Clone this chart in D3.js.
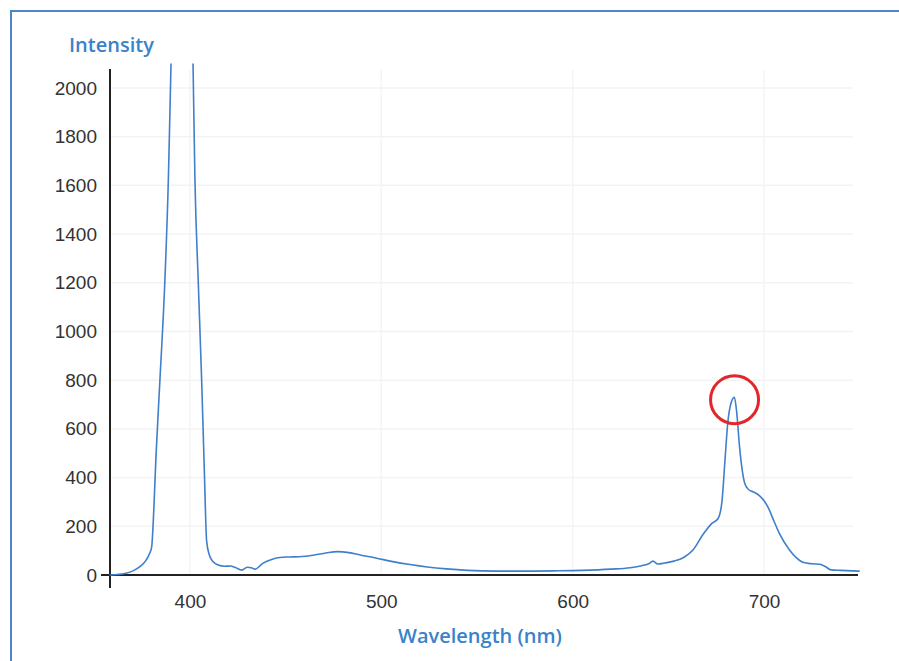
<!DOCTYPE html>
<html>
<head>
<meta charset="utf-8">
<script src="https://cdn.jsdelivr.net/npm/d3@7"></script>
<style>
  body { margin: 0; background: #fff; }
  svg { display: block; }
</style>
</head>
<body>
<svg id="chart" width="899" height="661"></svg>
<script>
// wavelength (nm) and intensity
const wavelengths = [358, 362, 366, 370, 374, 377, 379, 380, 381, 382.2, 384.3, 386.9, 388.7, 390.1, 392, 395, 398, 400, 401.6, 402.6, 404.3, 406.1, 407.5, 408.7, 410, 412, 414.5, 418, 421, 424, 427, 430, 432, 434, 438, 443, 447, 452, 457, 465, 471, 477, 483, 489, 497, 506, 515, 524, 534, 545, 560, 575, 590, 605, 620, 630, 636, 640, 642, 644.5, 648, 653, 658, 663, 668, 672.5, 676, 678, 679.5, 681, 683, 684.5, 685.7, 687.2, 689.9, 692, 694.2, 697.7, 700, 702, 705, 708, 713.3, 717, 720.3, 725, 729, 732, 735, 740, 746.4, 750];
const intensity = [0, 2, 6, 16, 35, 60, 90, 116, 250, 480, 801, 1211, 1622, 2100, 2700, 3200, 3200, 2800, 2100, 1622, 1211, 801, 430, 140, 85, 55, 42, 36, 37, 30, 20, 32, 30, 24, 48, 65, 72, 74, 75, 82, 90, 96, 92, 82, 70, 55, 43, 33, 25, 19, 16, 16, 17, 19, 24, 30, 38, 47, 57, 45, 49, 57, 72, 104, 165, 210, 232, 300, 460, 620, 712, 730, 670, 527, 377, 350, 342, 325, 305, 280, 225, 171, 103, 70, 52, 46, 44, 35, 21, 19, 17, 16];
const xTicks = [400, 500, 600, 700];
const yTicks = [0, 200, 400, 600, 800, 1000, 1200, 1400, 1600, 1800, 2000];
const highlight = { wavelength: 684.6, intensity: 720 };

const svg = d3.select('#chart');
const blue = '#3a82cb';
const tickFont = '19px "Liberation Sans", Arial, sans-serif';

// frame round the figure
svg.append('rect')
  .attr('x', 11).attr('y', 11)
  .attr('width', 1000).attr('height', 1000)
  .attr('fill', 'none')
  .attr('stroke', '#4a86c9')
  .attr('stroke-width', 2);

const x = d3.scaleLinear().domain([358, 750]).range([109.6, 859.7]);
const y = d3.scaleLinear().domain([0, 2100]).range([575, 63.6]);

// faint grid
svg.append('g').selectAll('line')
  .data(yTicks.slice(1))
  .join('line')
  .attr('x1', 111).attr('x2', 853)
  .attr('y1', d => y(d)).attr('y2', d => y(d))
  .attr('stroke', '#f3f3f3').attr('stroke-width', 1.5);
svg.append('g').selectAll('line')
  .data(xTicks)
  .join('line')
  .attr('x1', d => x(d)).attr('x2', d => x(d))
  .attr('y1', 70).attr('y2', 574)
  .attr('stroke', '#f4f4f4').attr('stroke-width', 1.5);

// axes
svg.append('line')
  .attr('x1', 110).attr('x2', 110)
  .attr('y1', 69).attr('y2', 588)
  .attr('stroke', '#222').attr('stroke-width', 2);
svg.append('line')
  .attr('x1', 101).attr('x2', 858)
  .attr('y1', y(0)).attr('y2', y(0))
  .attr('stroke', '#222').attr('stroke-width', 2);

const yAxis = d3.axisLeft(y).tickValues(yTicks).tickFormat(d3.format('d')).tickSize(0).tickPadding(13);
svg.append('g')
  .attr('transform', 'translate(110,0)')
  .call(yAxis)
  .call(g => g.select('.domain').remove())
  .call(g => g.selectAll('text')
    .attr('fill', '#333')
    .style('font', tickFont));

const xAxis = d3.axisBottom(x).tickValues(xTicks).tickFormat(d3.format('d')).tickSize(0).tickPadding(20);
svg.append('g')
  .attr('transform', `translate(0,${y(0)})`)
  .call(xAxis)
  .call(g => g.select('.domain').remove())
  .call(g => g.selectAll('text')
    .attr('fill', '#333')
    .style('font', tickFont));

// titles
svg.append('text')
  .attr('x', 69).attr('y', 52)
  .attr('fill', blue)
  .style('font', '600 20px "Open Sans", sans-serif')
  .text('Intensity');
svg.append('text')
  .attr('x', 480).attr('y', 643)
  .attr('text-anchor', 'middle')
  .attr('fill', blue)
  .style('font', '600 20px "Open Sans", sans-serif')
  .text('Wavelength (nm)');

// spectrum, clipped at the top of the plot
svg.append('clipPath').attr('id', 'plotClip')
  .append('rect')
  .attr('x', 100).attr('y', y(2100))
  .attr('width', 780).attr('height', y(0) - y(2100) + 10);

const points = wavelengths.map((w, i) => [w, intensity[i]]);
const line = d3.line()
  .x(d => x(d[0]))
  .y(d => y(d[1]))
  .curve(d3.curveMonotoneX);

svg.append('path')
  .datum(points)
  .attr('clip-path', 'url(#plotClip)')
  .attr('d', line)
  .attr('fill', 'none')
  .attr('stroke', '#3f7fcb')
  .attr('stroke-width', 1.6);

// red ring on the 685 nm peak
svg.append('circle')
  .attr('cx', x(highlight.wavelength))
  .attr('cy', y(highlight.intensity))
  .attr('r', 24)
  .attr('fill', 'none')
  .attr('stroke', '#e3262b')
  .attr('stroke-width', 3);
</script>
</body>
</html>
